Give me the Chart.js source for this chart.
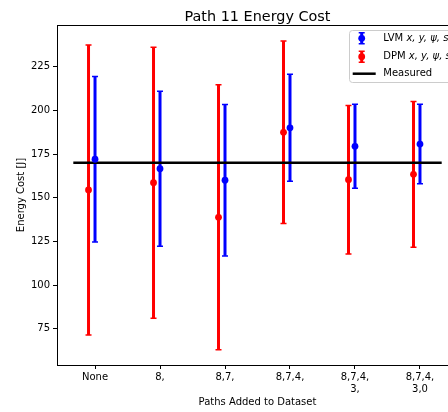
<!DOCTYPE html>
<html>
<head>
<meta charset="utf-8">
<script src="https://cdn.jsdelivr.net/npm/chart.js@4/dist/chart.umd.min.js"></script>
<style>
  html, body { margin: 0; padding: 0; overflow: hidden; background: #fff; }
  #wrap { width: 470px; height: 412px; }
</style>
</head>
<body>
<div id="wrap"><canvas id="myChart"></canvas></div>
<script>
// data
const categories = ['None', '8,', '8,7,', '8,7,4,', ['8,7,4,', '3,'], ['8,7,4,', '3,0']];
const lvmMean = [172, 166.6, 160, 190, 179.4, 180.7];
const lvmErr = [47.3, 44.3, 43.3, 30.6, 24, 22.7];
const dpmMean = [154.4, 158.6, 138.8, 187.4, 160.3, 163.4];
const dpmErr = [83, 77.5, 75.8, 52.2, 42.5, 41.7];
const measured = 170;
const measuredSpan = [-0.334, 5.334];
const yTicks = [75, 100, 125, 150, 175, 200, 225];

const FONT = 'DejaVu Sans';
const BLUE = '#0000ff';
const RED = '#ff0000';

const series = [
    { label: 'LVM ', math: 'x, y, \u03c8, s', mean: lvmMean, err: lvmErr, shift: 0, color: BLUE },
    { label: 'DPM ', math: 'x, y, \u03c8, s', mean: dpmMean, err: dpmErr, shift: -0.1, color: RED }
];

function drawBar(ctx, x, yTop, yBot, color) {
    ctx.strokeStyle = color;
    ctx.lineWidth = 3;
    ctx.beginPath();
    ctx.moveTo(x, yTop);
    ctx.lineTo(x, yBot);
    ctx.stroke();
    ctx.lineWidth = 1.5;
    ctx.beginPath();
    ctx.moveTo(x - 3, yTop);
    ctx.lineTo(x + 3, yTop);
    ctx.moveTo(x - 3, yBot);
    ctx.lineTo(x + 3, yBot);
    ctx.stroke();
}

const errorBars = {
    id: 'errorBars',
    beforeDatasetsDraw(chart) {
        const ctx = chart.ctx;
        const xs = chart.scales.x, ys = chart.scales.y;
        const a = chart.chartArea;
        ctx.save();
        ctx.strokeStyle = '#000';
        ctx.lineWidth = 1;
        ctx.strokeRect(a.left + 0.5, a.top + 0.5, a.right - a.left, a.bottom - a.top);
        series.forEach(s => {
            s.mean.forEach((m, i) => {
                const x = xs.getPixelForValue(i + s.shift);
                drawBar(ctx, x, ys.getPixelForValue(m + s.err[i]), ys.getPixelForValue(m - s.err[i]), s.color);
            });
        });
        ctx.restore();
    },
    afterDraw(chart) {
        const ctx = chart.ctx;
        const a = chart.chartArea;
        ctx.save();
        // title
        ctx.fillStyle = '#000';
        ctx.font = '14.4px "' + FONT + '"';
        ctx.textAlign = 'center';
        ctx.textBaseline = 'alphabetic';
        ctx.fillText('Path 11 Energy Cost', (a.left + a.right) / 2, 20.5);

        // legend
        ctx.fillStyle = 'rgba(255,255,255,0.8)';
        ctx.strokeStyle = '#cccccc';
        ctx.lineWidth = 1;
        ctx.beginPath();
        ctx.roundRect(349.5, 30.5, 140, 52, 3);
        ctx.fill();
        ctx.stroke();

        const rows = [38.3, 56.7];
        ctx.textAlign = 'left';
        ctx.textBaseline = 'middle';
        series.forEach((s, k) => {
            const y = rows[k];
            drawBar(ctx, 361.7, y - 5.5, y + 5.5, s.color);
            ctx.fillStyle = s.color;
            ctx.beginPath();
            ctx.arc(361.7, y, 3.4, 0, Math.PI * 2);
            ctx.fill();
            ctx.fillStyle = '#000';
            ctx.font = '10px "' + FONT + '"';
            ctx.fillText(s.label, 383.3, y);
            const w = ctx.measureText(s.label).width;
            ctx.font = 'italic 10px "' + FONT + '"';
            ctx.fillText(s.math, 383.3 + w, y);
        });
        ctx.strokeStyle = '#000';
        ctx.lineWidth = 2.5;
        ctx.beginPath();
        ctx.moveTo(352.7, 73.7);
        ctx.lineTo(375.7, 73.7);
        ctx.stroke();
        ctx.fillStyle = '#000';
        ctx.font = '10px "' + FONT + '"';
        ctx.fillText('Measured', 383.3, 73.7);
        ctx.restore();
    }
};

const ctx = document.getElementById('myChart');

new Chart(ctx, {
    type: 'scatter',
    data: {
        datasets: [
            {
                label: 'LVM',
                data: lvmMean.map((v, i) => ({ x: i, y: v })),
                backgroundColor: BLUE,
                borderColor: BLUE,
                pointRadius: 3.4,
                borderWidth: 0
            },
            {
                label: 'DPM',
                data: dpmMean.map((v, i) => ({ x: i - 0.1, y: v })),
                backgroundColor: RED,
                borderColor: RED,
                pointRadius: 3.4,
                borderWidth: 0
            },
            {
                label: 'Measured',
                data: measuredSpan.map(x => ({ x: x, y: measured })),
                showLine: true,
                borderColor: '#000',
                borderWidth: 2.5,
                pointRadius: 0
            }
        ]
    },
    options: {
        responsive: true,
        maintainAspectRatio: false,
        animation: false,
        layout: {
            padding: { left: 0, right: 12, top: 25, bottom: 0 }
        },
        plugins: {
            legend: { display: false },
            tooltip: { enabled: false }
        },
        scales: {
            x: {
                type: 'linear',
                min: -0.585,
                max: 5.585,
                afterBuildTicks: scale => {
                    scale.ticks = categories.map((c, i) => ({ value: i }));
                },
                afterFit: scale => { scale.height = 47; },
                ticks: {
                    color: '#000',
                    font: { family: FONT, size: 10 },
                    padding: 2,
                    maxRotation: 0,
                    autoSkip: false,
                    callback: v => categories[v]
                },
                grid: {
                    drawOnChartArea: false,
                    drawTicks: true,
                    tickLength: 4,
                    color: '#000'
                },
                border: { display: false },
                title: {
                    display: true,
                    text: 'Paths Added to Dataset',
                    color: '#000',
                    font: { family: FONT, size: 10 },
                    padding: { top: 0, bottom: 3.7 }
                }
            },
            y: {
                min: 54.3,
                max: 248.8,
                afterBuildTicks: scale => {
                    scale.ticks = yTicks.map(v => ({ value: v }));
                },
                afterFit: scale => { scale.width = 57; },
                ticks: {
                    color: '#000',
                    font: { family: FONT, size: 10 },
                    padding: 3
                },
                grid: {
                    drawOnChartArea: false,
                    drawTicks: true,
                    tickLength: 4,
                    color: '#000'
                },
                border: { display: false },
                title: {
                    display: true,
                    text: 'Energy Cost [J]',
                    color: '#000',
                    font: { family: FONT, size: 10 },
                    padding: { top: 15, bottom: 0 }
                }
            }
        }
    },
    plugins: [errorBars]
});
</script>
</body>
</html>
